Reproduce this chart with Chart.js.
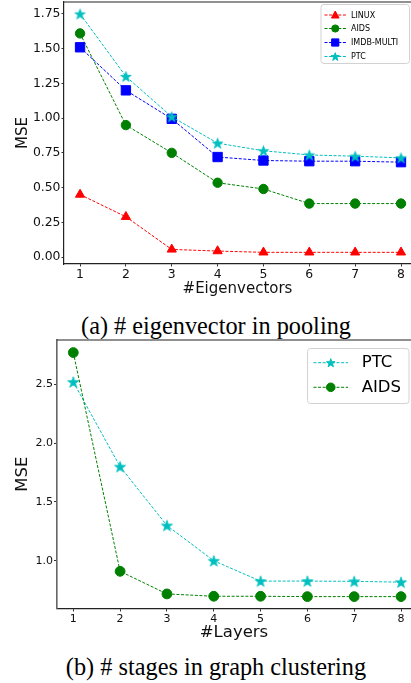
<!DOCTYPE html>
<html>
<head>
<meta charset="utf-8">
<script src="https://cdn.jsdelivr.net/npm/chart.js@4.4.1/dist/chart.umd.min.js"></script>
<style>
  html, body { margin: 0; padding: 0; background: #fff; width: 411px; height: 683px; overflow: hidden; position: relative; }
  canvas { position: absolute; left: 0; }
  #cA { top: 0; }
  #cB { top: 336px; }
  .cap { position: absolute; left: 0; width: 432px; text-align: center; font-family: "Liberation Serif", "Times New Roman", serif; font-size: 24.3px; line-height: 24px; color: #000; white-space: nowrap; }
</style>
</head>
<body>
<canvas id="cA" width="411" height="300"></canvas>
<div class="cap" style="top:314px">(a) # eigenvector in pooling</div>
<canvas id="cB" width="411" height="310"></canvas>
<div class="cap" style="top:655px">(b) # stages in graph clustering</div>
<script>
// ---------- data ----------
const eigenCounts = [1, 2, 3, 4, 5, 6, 7, 8];
const linuxMSE   = [0.45, 0.29, 0.055, 0.043, 0.034, 0.034, 0.034, 0.034];
const aidsMSE_A  = [1.61, 0.95, 0.75, 0.535, 0.49, 0.385, 0.385, 0.385];
const imdbMSE    = [1.51, 1.20, 0.995, 0.72, 0.695, 0.69, 0.69, 0.683];
const ptcMSE_A   = [1.75, 1.30, 1.01, 0.82, 0.765, 0.735, 0.726, 0.714];
const yTicksA    = [0, 0.25, 0.5, 0.75, 1.0, 1.25, 1.5, 1.75];

const layerCounts = [1, 2, 3, 4, 5, 6, 7, 8];
const ptcMSE_B    = [2.52, 1.80, 1.30, 1.00, 0.827, 0.827, 0.825, 0.818];
const aidsMSE_B   = [2.77, 0.91, 0.718, 0.698, 0.698, 0.695, 0.695, 0.695];
const yTicksB     = [1.0, 1.5, 2.0, 2.5];

// ---------- styles ----------
const RED = '#ff0000', GREEN = '#008000', BLUE = '#0000ff', CYAN = '#00bfbf';
const FONT = '"DejaVu Sans", sans-serif';
const DASH = [3, 1.6];

function starImage(R, color) {
  const s = Math.ceil(R * 2 + 2);
  const c = document.createElement('canvas');
  c.width = s; c.height = s;
  const g = c.getContext('2d');
  const r = R * 0.4;
  g.beginPath();
  for (let i = 0; i < 10; i++) {
    const a = -Math.PI / 2 + i * Math.PI / 5;
    const rr = i % 2 === 0 ? R : r;
    const px = s / 2 + rr * Math.cos(a), py = s / 2 + rr * Math.sin(a) + R * 0.1;
    if (i === 0) g.moveTo(px, py); else g.lineTo(px, py);
  }
  g.closePath();
  g.fillStyle = color; g.fill();
  g.strokeStyle = color; g.lineWidth = 0.8; g.stroke();
  return c;
}

function pts(xs, ys) { return xs.map((x, i) => ({ x: x, y: ys[i] })); }

function series(label, xs, ys, color, style, radius, order) {
  return {
    label: label, data: pts(xs, ys), order: order,
    borderColor: color, backgroundColor: color, borderWidth: 1, borderDash: DASH,
    pointStyle: style, pointRadius: radius, pointHoverRadius: radius,
    pointBackgroundColor: color, pointBorderColor: color, pointBorderWidth: 1,
    tension: 0, fill: false, clip: false
  };
}

function drawMarker(ctx, kind, x, y, r, color) {
  ctx.save();
  ctx.fillStyle = color; ctx.strokeStyle = color; ctx.lineWidth = 1;
  ctx.beginPath();
  if (kind === 'circle') {
    ctx.arc(x, y, r, 0, Math.PI * 2);
  } else if (kind === 'rect') {
    ctx.rect(x - r, y - r, 2 * r, 2 * r);
  } else if (kind === 'triangle') {
    ctx.moveTo(x, y - r); ctx.lineTo(x + r * 0.95, y + r * 0.75); ctx.lineTo(x - r * 0.95, y + r * 0.75);
  } else if (kind === 'star') {
    for (let i = 0; i < 10; i++) {
      const a = -Math.PI / 2 + i * Math.PI / 5;
      const rr = i % 2 === 0 ? r : r * 0.4;
      const px = x + rr * Math.cos(a), py = y + rr * Math.sin(a) + r * 0.1;
      if (i === 0) ctx.moveTo(px, py); else ctx.lineTo(px, py);
    }
  }
  ctx.closePath(); ctx.fill(); ctx.stroke();
  ctx.restore();
}

function roundRect(ctx, x, y, w, h, r) {
  ctx.beginPath();
  ctx.moveTo(x + r, y); ctx.lineTo(x + w - r, y); ctx.quadraticCurveTo(x + w, y, x + w, y + r);
  ctx.lineTo(x + w, y + h - r); ctx.quadraticCurveTo(x + w, y + h, x + w - r, y + h);
  ctx.lineTo(x + r, y + h); ctx.quadraticCurveTo(x, y + h, x, y + h - r);
  ctx.lineTo(x, y + r); ctx.quadraticCurveTo(x, y, x + r, y); ctx.closePath();
}

function legendPlugin(id, box, entries, fontSize, lineX1, lineX2, textX) {
  return {
    id: id,
    afterDraw(chart) {
      const ctx = chart.ctx;
      ctx.save();
      roundRect(ctx, box.x, box.y, box.w, box.h, 3);
      ctx.fillStyle = 'rgba(255,255,255,0.85)'; ctx.fill();
      ctx.strokeStyle = '#d2d2d2'; ctx.lineWidth = 1; ctx.stroke();
      entries.forEach(e => {
        ctx.save();
        ctx.strokeStyle = e.color; ctx.lineWidth = 1; ctx.setLineDash(DASH);
        ctx.beginPath(); ctx.moveTo(lineX1, e.y); ctx.lineTo(lineX2, e.y); ctx.stroke();
        ctx.restore();
        drawMarker(ctx, e.kind, (lineX1 + lineX2) / 2, e.y, e.r, e.color);
        ctx.fillStyle = '#000'; ctx.font = fontSize + 'px ' + FONT;
        ctx.textBaseline = 'middle'; ctx.textAlign = 'left';
        ctx.fillText(e.label, textX, e.y + 0.5);
      });
      ctx.restore();
    }
  };
}

const framePlugin = {
  id: 'frame',
  afterDraw(chart) {
    const a = chart.chartArea, ctx = chart.ctx;
    ctx.save();
    ctx.strokeStyle = '#222'; ctx.lineWidth = 1.2;
    ctx.beginPath();
    ctx.moveTo(a.left, a.top); ctx.lineTo(a.right + 5, a.top);
    ctx.stroke();
    ctx.restore();
  }
};

function axisOpts(cfg) {
  return {
    type: 'linear', min: cfg.min, max: cfg.max,
    afterBuildTicks: s => { s.ticks = cfg.ticks.map(v => ({ value: v })); },
    afterFit: s => {
      if (cfg.width !== undefined) s.width = cfg.width;
      if (cfg.height !== undefined) s.height = cfg.height;
      s.paddingTop = 0; s.paddingBottom = 0; s.paddingLeft = 0; s.paddingRight = 0;
    },
    ticks: { color: '#111', font: { family: FONT, size: cfg.tickSize }, padding: cfg.tickPad, maxRotation: 0, autoSkip: false,
             callback: v => cfg.fmt(v) },
    grid: { display: true, drawOnChartArea: false, drawTicks: true, tickLength: cfg.tickLen, color: '#333', tickWidth: 1 },
    border: { display: true, color: cfg.borderColor || '#222', width: cfg.borderWidth || 1.2 },
    title: { display: true, text: cfg.title, color: '#111', font: { family: FONT, size: cfg.titleSize }, padding: cfg.titlePad }
  };
}

// ---------- Chart A ----------
new Chart(document.getElementById('cA'), {
  type: 'line',
  data: {
    datasets: [
      series('LINUX', eigenCounts, linuxMSE, RED, 'triangle', 5.3, 3),
      series('AIDS', eigenCounts, aidsMSE_A, GREEN, 'circle', 4.7, 2),
      series('IMDB-MULTI', eigenCounts, imdbMSE, BLUE, 'rect', 6.6, 1),
      series('PTC', eigenCounts, ptcMSE_A, CYAN, starImage(5.5, CYAN), 5.5, 0)
    ]
  },
  options: {
    responsive: false, animation: false, events: [],
    layout: { autoPadding: false, padding: { top: 2, right: 0, left: 0, bottom: 0 } },
    plugins: { legend: { display: false }, tooltip: { enabled: false } },
    scales: {
      x: axisOpts({ min: 0.65, max: 8.218, ticks: eigenCounts, height: 36, tickSize: 12.4, tickPad: 1, tickLen: 2.5,
                    fmt: v => String(v), title: '#Eigenvectors', titleSize: 15, titlePad: { top: 0, bottom: 2 } }),
      y: axisOpts({ min: -0.05, max: 1.836, ticks: yTicksA, width: 64, tickSize: 12.4, tickPad: 1, tickLen: 2.5,
                    fmt: v => v.toFixed(2), title: 'MSE', titleSize: 15, titlePad: { top: 14, bottom: 0 } })
    }
  },
  plugins: [framePlugin, legendPlugin('legA', { x: 321, y: 4.5, w: 88.5, h: 59 }, [
    { label: 'LINUX', color: RED, kind: 'triangle', r: 4, y: 15 },
    { label: 'AIDS', color: GREEN, kind: 'circle', r: 3.6, y: 28.5 },
    { label: 'IMDB-MULTI', color: BLUE, kind: 'rect', r: 3.6, y: 42.5 },
    { label: 'PTC', color: CYAN, kind: 'star', r: 4.3, y: 56.5 }
  ], 8, 324.5, 346, 351)]
});

// ---------- Chart B ----------
new Chart(document.getElementById('cB'), {
  type: 'line',
  data: {
    datasets: [
      series('PTC', layerCounts, ptcMSE_B, CYAN, starImage(5.8, CYAN), 5.8, 1),
      series('AIDS', layerCounts, aidsMSE_B, GREEN, 'circle', 4.9, 0)
    ]
  },
  options: {
    responsive: false, animation: false, events: [],
    layout: { autoPadding: false, padding: { top: 4, right: 0, left: 0, bottom: 0 } },
    plugins: { legend: { display: false }, tooltip: { enabled: false } },
    scales: {
      x: axisOpts({ min: 0.652, max: 8.213, ticks: layerCounts, height: 37.5, tickSize: 11, tickPad: 1, tickLen: 3,
                    fmt: v => String(v), title: '#Layers', titleSize: 16.5, titlePad: { top: 0, bottom: 3 } }),
      y: axisOpts({ min: 0.594, max: 2.877, ticks: yTicksB, width: 57, tickSize: 11, tickPad: 1, tickLen: 3,
                    fmt: v => v.toFixed(1), title: 'MSE', titleSize: 16.5, titlePad: { top: 13, bottom: 0 },
                    borderColor: '#666', borderWidth: 1.6 })
    }
  },
  plugins: [framePlugin, legendPlugin('legB', { x: 307.5, y: 12.5, w: 101.5, h: 55 }, [
    { label: 'PTC', color: CYAN, kind: 'star', r: 4.5, y: 26.7 },
    { label: 'AIDS', color: GREEN, kind: 'circle', r: 4.3, y: 51.3 }
  ], 16.5, 313.5, 348, 361.7)]
});
</script>
</body>
</html>
